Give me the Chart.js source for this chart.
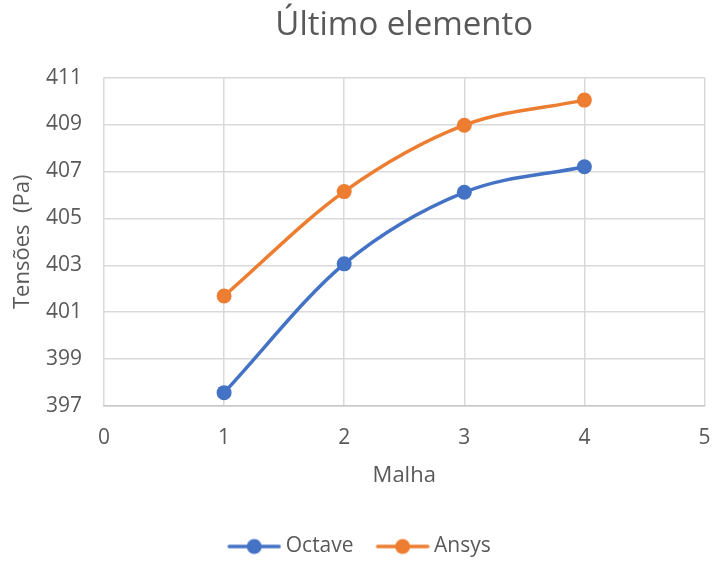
<!DOCTYPE html>
<html>
<head>
<meta charset="utf-8">
<script src="https://cdn.jsdelivr.net/npm/chart.js@4/dist/chart.umd.min.js"></script>
<style>
  html, body { margin: 0; padding: 0; background: #ffffff; }
  #wrap { width: 712px; height: 561px; }
</style>
</head>
<body>
<div id="wrap"><canvas id="c" width="712" height="561"></canvas></div>
<script>
// Mesh refinement levels and stress at the last element
const malha = [1, 2, 3, 4];
const octave = [397.57, 403.06, 406.11, 407.2];
const ansys = [401.69, 406.14, 408.97, 410.04];
const yTicks = [397, 399, 401, 403, 405, 407, 409, 411];
const xTicks = [0, 1, 2, 3, 4, 5];

const FONT = "'Open Sans', 'Liberation Sans', sans-serif";
const TEXT = '#595959';
const GRID = '#d9d9d9';

function toPoints(xs, ys) {
  return xs.map((x, i) => ({ x: x, y: ys[i] }));
}

// Legend swatch: short line with a marker on it; left margin keeps the
// line flush with the box while the text sits close to its right end
function swatch(color) {
  const cv = document.createElement('canvas');
  cv.width = 60; cv.height = 18;
  const g = cv.getContext('2d');
  g.strokeStyle = color; g.lineWidth = 3.5; g.lineCap = 'round';
  g.beginPath(); g.moveTo(8, 9); g.lineTo(58, 9); g.stroke();
  g.fillStyle = color;
  g.beginPath(); g.arc(33, 9, 7.5, 0, Math.PI * 2); g.fill();
  return cv;
}

const series = [
  { label: 'Octave', data: toPoints(malha, octave), color: '#4472C4' },
  { label: 'Ansys', data: toPoints(malha, ansys), color: '#ED7D31' }
];

new Chart(document.getElementById('c'), {
  type: 'line',
  data: {
    datasets: series.map(s => ({
      label: s.label,
      data: s.data,
      borderColor: s.color,
      backgroundColor: s.color,
      borderWidth: 3.5,
      pointRadius: 7.5,
      pointHoverRadius: 7.5,
      pointBorderWidth: 0,
      cubicInterpolationMode: 'monotone',
      fill: false
    }))
  },
  options: {
    responsive: false,
    animation: false,
    layout: { padding: { left: 6, right: 0, top: 0, bottom: -6 } },
    plugins: {
      title: {
        display: true,
        fullSize: false,
        text: 'Último elemento',
        color: TEXT,
        font: { family: FONT, size: 33, weight: 'normal' },
        padding: { top: 6, bottom: 32 }
      },
      legend: {
        position: 'bottom',
        labels: {
          color: TEXT,
          font: { family: FONT, size: 21 },
          usePointStyle: true,
          pointStyleWidth: 48,
          padding: 22,
          generateLabels: (chart) => series.map((s, i) => ({
            text: s.label,
            fontColor: TEXT,
            pointStyle: swatch(s.color),
            datasetIndex: i,
            hidden: false,
            lineWidth: 0,
            strokeStyle: s.color,
            fillStyle: s.color
          }))
        }
      },
      tooltip: { enabled: false }
    },
    scales: {
      x: {
        type: 'linear',
        min: 0,
        max: 5,
        afterBuildTicks: (axis) => { axis.ticks = xTicks.map(v => ({ value: v })); },
        grid: { color: GRID, lineWidth: 1.5, drawTicks: false },
        border: { display: true, color: '#c8c8c8', width: 1.5 },
        ticks: { color: TEXT, font: { family: FONT, size: 21 }, padding: 19 },
        title: {
          display: true,
          text: 'Malha',
          color: TEXT,
          font: { family: FONT, size: 22 },
          padding: { top: 0, bottom: 25 }
        },
        afterFit: (axis) => {
          axis.height = 108;
          axis.paddingRight = 5;
        }
      },
      y: {
        type: 'linear',
        min: 397,
        max: 411,
        afterBuildTicks: (axis) => { axis.ticks = yTicks.map(v => ({ value: v })); },
        grid: { color: GRID, lineWidth: 1.5, drawTicks: false },
        border: { display: false },
        ticks: { color: TEXT, font: { family: FONT, size: 21 }, padding: 22 },
        title: {
          display: true,
          text: 'Tensões  (Pa)',
          color: TEXT,
          font: { family: FONT, size: 22 },
          padding: { top: 4, bottom: 0 }
        },
        afterFit: (axis) => { axis.width = 98; }
      }
    }
  }
});
</script>
</body>
</html>
